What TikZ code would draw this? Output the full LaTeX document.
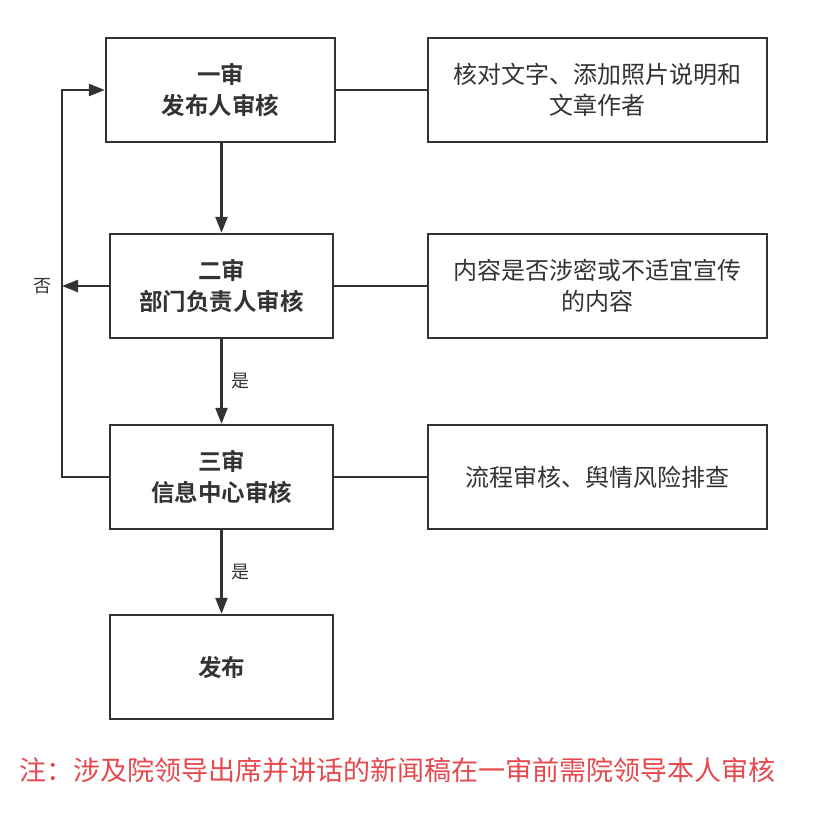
\documentclass[tikz,border=0pt]{standalone}
\usepackage{fontspec}
\setmainfont{Noto Sans CJK SC}[BoldFont={Noto Sans CJK SC Bold}]
\usetikzlibrary{arrows.meta}
\definecolor{ln}{HTML}{333333}
\definecolor{note}{HTML}{E5484D}
\begin{document}
\begin{tikzpicture}[x=1pt,y=-1pt,
  lbox/.style={draw=ln,line width=2.4pt,minimum width=#1,minimum height=104pt,inner sep=0pt,align=center,font=\fontsize{23.5}{31}\selectfont\bfseries,text=ln},
  rbox/.style={draw=ln,line width=2.4pt,minimum width=339pt,minimum height=104pt,inner sep=0pt,align=center,font=\fontsize{24}{31}\selectfont,text=ln},
  conn/.style={draw=ln,line width=2.4pt},
  arr/.style={conn,-{Triangle[length=16pt,width=12pt]}},
  lbl/.style={font=\fontsize{18}{20}\selectfont,text=ln,inner sep=0pt}]
\useasboundingbox (0,0) rectangle (833,837);
\node[lbox=229pt] (b1) at (220.5,90) {一审\\发布人审核};
\node[lbox=223pt] (b2) at (221.5,286) {二审\\部门负责人审核};
\node[lbox=223pt] (b3) at (221.5,477) {三审\\信息中心审核};
\node[lbox=223pt] (b4) at (221.5,667) {发布};
\node[rbox] (r1) at (597.5,90) {核对文字、添加照片说明和\\文章作者};
\node[rbox] (r2) at (597.5,286) {内容是否涉密或不适宜宣传\\的内容};
\node[rbox] (r3) at (597.5,477) {流程审核、舆情风险排查};
\node[font=\fontsize{27}{30}\selectfont,text=note,inner sep=0pt] (note) at (397,770) {注：涉及院领导出席并讲话的新闻稿在一审前需院领导本人审核};
\coordinate (lt) at (62,90);
\coordinate (lm) at (62,286);
\coordinate (lb) at (62,477);
\draw[conn] (b1.east) -- (r1.west);
\draw[conn] (b2.east) -- (r2.west);
\draw[conn] (b3.east) -- (r3.west);
\draw[arr] (b1.south -| b2.north) -- (b2.north);
\draw[arr] (b2.south) -- node[lbl,right=9pt] (y1) {是} (b3.north);
\draw[arr] (b3.south) -- node[lbl,right=9pt] (y2) {是} (b4.north);
\draw[arr] (b2.west) -- (lm);
\draw[arr] (b3.west) -- (lb) -- (lt) -- (b1.west);
\node[lbl,left=10pt] (no) at (lm) {否};
\end{tikzpicture}
\end{document}
